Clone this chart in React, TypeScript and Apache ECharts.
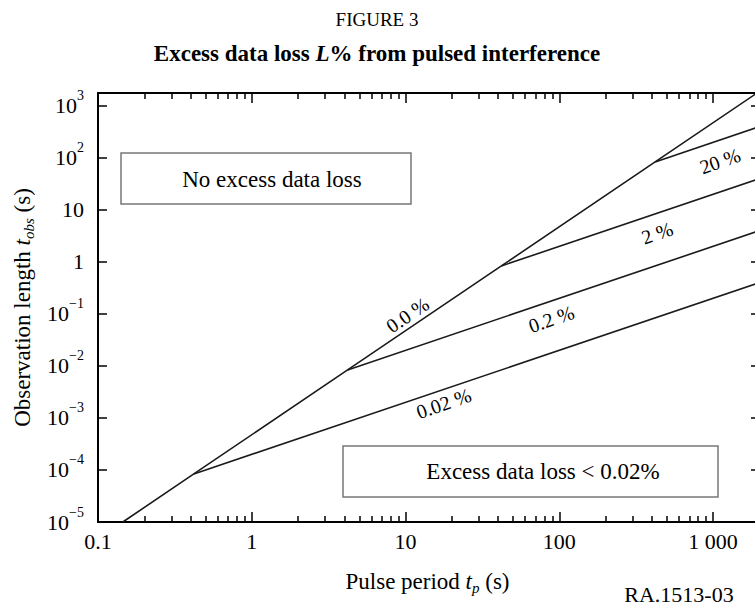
import React, { useEffect, useRef } from "react";
import * as echarts from "echarts";

// ---- axis ticks ----
const xTickValues = [0.1, 1, 10, 100, 1000];
const xTickLabels = ["0.1", "1", "10", "100", "1 000"];
const xMinorTickValues = [
  0.2, 0.3, 0.4, 0.5, 0.6, 0.7, 0.8, 0.9,
  2, 3, 4, 5, 6, 7, 8, 9,
  20, 30, 40, 50, 60, 70, 80, 90,
  200, 300, 400, 500, 600, 700, 800, 900,
];
const yTickValues = [1e-5, 1e-4, 1e-3, 1e-2, 1e-1, 1, 10, 100, 1000];
const yTickLabels = [
  "10{sup|−5}", "10{sup|−4}", "10{sup|−3}", "10{sup|−2}", "10{sup|−1}",
  "1", "10", "10{sup|2}", "10{sup|3}",
];
const xMin = 0.1;
const xMax = 1930;
const yMin = 1e-5;
const yMax = 1778;

// ---- curves ----
const zeroLossTp = [0.145, 0.42, 4.2, 42, 420, 1930];
const zeroLossTobs = [1e-5, 8.4e-5, 8.4e-3, 0.84, 84, 1775];
const branchNames = ["0.02 %", "0.2 %", "2 %", "20 %"];
const branchTp = [
  [0.42, 1930],
  [4.2, 1930],
  [42, 1930],
  [420, 1930],
];
const branchTobs = [
  [8.4e-5, 0.386],
  [8.4e-3, 3.86],
  [0.84, 38.6],
  [84, 386],
];

// ---- curve labels ----
const curveLabels = ["0.0 %", "0.02 %", "0.2 %", "2 %", "20 %"];
const curveLabelTp = [10.3, 17.7, 88.7, 433, 1110];
const curveLabelTobs = [0.096, 0.0019, 0.08, 3.6, 87.5];
const curveLabelAngle = [34, 19, 19, 19, 19];

const regionLabels = ["No excess data loss", "Excess data loss < 0.02%"];

const FONT = "'Liberation Serif', serif";
const lg = (v: number) => Math.log10(v);

export default function App() {
  const ref = useRef<HTMLDivElement>(null);
  useEffect(() => {
    if (!ref.current) return;
    const chart = echarts.init(ref.current, undefined, { renderer: "svg" });

    const axisLine = { show: true, onZero: false, lineStyle: { color: "#000", width: 2 } };
    const noLine = { show: false, onZero: false };
    const xBase = {
      type: "value" as const,
      min: lg(xMin),
      max: lg(xMax),
      splitLine: { show: false },
    };
    const yBase = {
      type: "value" as const,
      min: lg(yMin),
      max: lg(yMax),
      splitLine: { show: false },
    };
    const nameStyle = {
      fontFamily: FONT,
      fontSize: 23,
      color: "#000",
      lineHeight: 28,
      rich: {
        i: { fontFamily: FONT, fontSize: 23, fontStyle: "italic", color: "#000" },
        sub: {
          fontFamily: FONT,
          fontSize: 15,
          fontStyle: "italic",
          color: "#000",
          lineHeight: 15,
          verticalAlign: "bottom",
        },
      },
    };

    const xAxes = [
      {
        ...xBase,
        position: "bottom",
        axisLine,
        axisTick: {
          show: true,
          inside: true,
          length: 10,
          lineStyle: { color: "#000", width: 1.5 },
          customValues: xTickValues.map(lg),
        },
        axisLabel: {
          show: true,
          customValues: xTickValues.map(lg),
          formatter: (v: number) => xTickLabels[Math.round(v) + 1],
          fontFamily: FONT,
          fontSize: 22,
          color: "#000",
          margin: 8,
        },
        name: "Pulse period {i|t}{sub|p} (s)",
        nameLocation: "middle",
        nameGap: 45,
        nameTextStyle: nameStyle,
      },
      {
        ...xBase,
        position: "bottom",
        axisLine: noLine,
        axisTick: {
          show: true,
          inside: true,
          length: 6,
          lineStyle: { color: "#000", width: 1.5 },
          customValues: xMinorTickValues.map(lg),
        },
        axisLabel: { show: false },
      },
      {
        ...xBase,
        position: "top",
        axisLine,
        axisTick: {
          show: true,
          inside: true,
          length: 10,
          lineStyle: { color: "#000", width: 1.5 },
          customValues: xTickValues.map(lg),
        },
        axisLabel: { show: false },
      },
      {
        ...xBase,
        position: "top",
        axisLine: noLine,
        axisTick: {
          show: true,
          inside: true,
          length: 6,
          lineStyle: { color: "#000", width: 1.5 },
          customValues: xMinorTickValues.map(lg),
        },
        axisLabel: { show: false },
      },
    ];

    const yAxes = [
      {
        ...yBase,
        position: "left",
        axisLine,
        axisTick: {
          show: true,
          inside: true,
          length: 9,
          lineStyle: { color: "#000", width: 1.5 },
          customValues: yTickValues.map(lg),
        },
        axisLabel: {
          show: true,
          customValues: yTickValues.map(lg),
          formatter: (v: number) => yTickLabels[Math.round(v) + 5],
          fontFamily: FONT,
          fontSize: 22,
          lineHeight: 34,
          color: "#000",
          margin: 14,
          rich: {
            sup: {
              fontFamily: FONT,
              fontSize: 14,
              lineHeight: 14,
              verticalAlign: "top",
              color: "#000",
            },
          },
        },
        name: "Observation length {i|t}{sub|obs} (s)",
        nameLocation: "middle",
        nameRotate: 90,
        nameGap: 62,
        nameTextStyle: nameStyle,
      },
      {
        ...yBase,
        position: "right",
        axisLine,
        axisTick: {
          show: true,
          inside: true,
          length: 6,
          lineStyle: { color: "#000", width: 1.5 },
          customValues: yTickValues.map(lg),
        },
        axisLabel: { show: false },
      },
    ];

    const curveStyle = { color: "#1a1a1a", width: 1.6 };
    const labelStyle = {
      show: true,
      position: "inside",
      fontFamily: FONT,
      fontSize: 20,
      color: "#000",
      opacity: 1,
      textBorderWidth: 0,
      textBorderColor: "transparent",
    };
    const series: any[] = [
      {
        name: "0.0 %",
        type: "line",
        xAxisIndex: 0,
        yAxisIndex: 0,
        symbol: "none",
        lineStyle: curveStyle,
        data: zeroLossTp.map((t, i) => [lg(t), lg(zeroLossTobs[i])]),
      },
      ...branchNames.map((n, k) => ({
        name: n,
        type: "line",
        xAxisIndex: 0,
        yAxisIndex: 0,
        symbol: "none",
        lineStyle: curveStyle,
        data: branchTp[k].map((t, i) => [lg(t), lg(branchTobs[k][i])]),
      })),
      {
        name: "labels",
        type: "scatter",
        xAxisIndex: 0,
        yAxisIndex: 0,
        symbolSize: 0,
        silent: true,
        itemStyle: { color: "#000", opacity: 1 },
        label: {
          ...labelStyle,
          formatter: (p: any) => curveLabels[p.dataIndex],
        },
        data: curveLabels.map((_, i) => ({
          value: [lg(curveLabelTp[i]), lg(curveLabelTobs[i])],
          label: { ...labelStyle, rotate: curveLabelAngle[i] },
        })),
      },
    ];

    chart.setOption({
      animation: false,
      backgroundColor: "#fff",
      grid: { left: 97, right: 5, top: 93, bottom: 88, containLabel: false },
      xAxis: xAxes,
      yAxis: yAxes,
      series,
      graphic: [
        {
          type: "text",
          x: 377,
          y: 19,
          style: {
            text: "FIGURE 3",
            fontFamily: FONT,
            fontSize: 19,
            fill: "#000",
            align: "center",
            verticalAlign: "middle",
          },
        },
        {
          type: "text",
          x: 377,
          y: 53,
          style: {
            text: "Excess data loss {i|L}% from pulsed interference",
            fontFamily: FONT,
            fontSize: 23,
            fontWeight: "bold",
            fill: "#000",
            align: "center",
            verticalAlign: "middle",
            rich: {
              i: {
                fontFamily: FONT,
                fontSize: 23,
                fontWeight: "bold",
                fontStyle: "italic",
                fill: "#000",
              },
            },
          },
        },
        {
          type: "rect",
          shape: { x: 121, y: 153, width: 290, height: 51 },
          style: { fill: "#fff", stroke: "#777", lineWidth: 1.5 },
        },
        {
          type: "text",
          x: 272,
          y: 179,
          style: {
            text: regionLabels[0],
            fontFamily: FONT,
            fontSize: 23,
            fill: "#000",
            align: "center",
            verticalAlign: "middle",
          },
        },
        {
          type: "rect",
          shape: { x: 343, y: 446, width: 375, height: 51 },
          style: { fill: "#fff", stroke: "#777", lineWidth: 1.5 },
        },
        {
          type: "text",
          x: 543,
          y: 471,
          style: {
            text: regionLabels[1],
            fontFamily: FONT,
            fontSize: 23,
            fill: "#000",
            align: "center",
            verticalAlign: "middle",
          },
        },
        {
          type: "text",
          x: 679,
          y: 594,
          style: {
            text: "RA.1513-03",
            fontFamily: FONT,
            fontSize: 22,
            fill: "#000",
            align: "center",
            verticalAlign: "middle",
          },
        },
      ],
    });
    return () => chart.dispose();
  }, []);

  return (
    <div
      style={{
        position: "absolute",
        left: 0,
        top: 0,
        width: 755,
        height: 610,
        overflow: "hidden",
        background: "#fff",
      }}
    >
      <div ref={ref} style={{ width: 762, height: 610 }} />
    </div>
  );
}
